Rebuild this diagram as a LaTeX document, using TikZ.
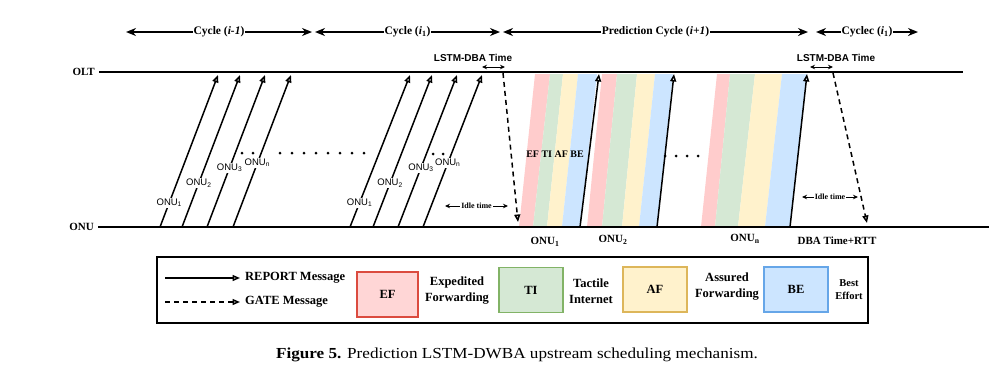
\documentclass[tikz,border=0pt]{standalone}
\usepackage{fontspec}
\setmainfont{Liberation Serif}
\setsansfont{Liberation Sans}
\newfontfamily\capfont[FakeStretch=1.12]{Liberation Serif}
\usetikzlibrary{arrows.meta}

\definecolor{efpink}{HTML}{FFCCCC}
\definecolor{tigreen}{HTML}{D5E8D4}
\definecolor{afyellow}{HTML}{FFF2CC}
\definecolor{beblue}{HTML}{CCE5FF}
\definecolor{efred}{HTML}{DB4B3F}
\definecolor{tiline}{HTML}{82B366}
\definecolor{afline}{HTML}{DDB65A}
\definecolor{beline}{HTML}{66A6E8}

\tikzset{
  levelline/.style={line width=2pt},
  report/.style={line width=1.5pt, -{Triangle[open,length=7.5pt,width=6pt]}},
  gate/.style={report, dash pattern=on 5pt off 4pt},
  cyc/.style={line width=1.7pt, {Stealth[length=10pt,width=8pt]}-{Stealth[length=10pt,width=8pt]}},
  spanarrow/.style={line width=0.9pt, {Stealth[length=5pt,width=4.5pt]}-{Stealth[length=5pt,width=4.5pt]}},
  onulab/.style={font=\sffamily\fontsize{9.5}{10}\selectfont, fill=white, inner sep=1pt},
  cyclab/.style={font=\bfseries\fontsize{11.5}{12}\selectfont, fill=white, inner sep=1pt},
  lstmlab/.style={font=\sffamily\bfseries\fontsize{10}{11}\selectfont, inner sep=0pt},
  idlelab/.style={font=\bfseries\fontsize{8}{9}\selectfont, fill=white, inner sep=1pt},
  sidelab/.style={font=\bfseries\fontsize{11}{12}\selectfont, inner sep=4pt},
  leglab/.style={font=\bfseries\fontsize{12.5}{16}\selectfont, align=center, inner sep=0pt},
  legbox/.style={line width=1.4pt, minimum width=64pt, minimum height=45pt, font=\bfseries\fontsize{12.5}{15}\selectfont}
}

\begin{document}
\begin{tikzpicture}[x=1pt, y=-1pt]
\useasboundingbox (0,0) rectangle (1003,373);

\foreach \ba/\ta/\tb/\bb/\c in {
  519/535/550/533/efpink, 533/550/563/547/tigreen, 547/563/578/562/afyellow, 562/578/597/580/beblue,
  587/602/617/602/efpink, 602/617/637/622/tigreen, 622/637/655/639/afyellow, 639/655/673/657/beblue,
  701/717/730/715/efpink, 715/730/755/738/tigreen, 738/755/782/765/afyellow, 765/782/807/790/beblue}
  \fill[\c] (\ba,227) -- (\ta,74) -- (\tb,74) -- (\bb,227) -- cycle;

\node[sidelab, anchor=east] (olt) at (99,72) {OLT};
\node[sidelab, anchor=east] (onu) at (98,227) {ONU};
\coordinate (oltend) at (963,72);
\coordinate (onuend) at (989,227);
\draw[levelline] (olt.east) -- (oltend);
\draw[levelline] (onu.east) -- (onuend);

\coordinate (c1a) at (126,32); \coordinate (c1b) at (312,32);
\coordinate (c2a) at (315,32); \coordinate (c2b) at (500,32);
\coordinate (c3a) at (503,32); \coordinate (c3b) at (808,32);
\coordinate (c4a) at (816,32); \coordinate (c4b) at (918,32);
\draw[cyc] (c1a) -- node[cyclab] {Cycle (\textit{i-1})} (c1b);
\draw[cyc] (c2a) -- node[cyclab] {Cycle (\textit{i}\textsubscript{1})} (c2b);
\draw[cyc] (c3a) -- node[cyclab] {Prediction Cycle (\textit{i+1})} (c3b);
\draw[cyc] (c4a) -- node[cyclab] {Cyclec (\textit{i}\textsubscript{1})} (c4b);

\node[lstmlab] (lstm1) at (473,58) {LSTM-DBA Time};
\node[lstmlab] (lstm2) at (836,58) {LSTM-DBA Time};
\coordinate (l1a) at (482,67); \coordinate (l1b) at (505,67);
\coordinate (l2a) at (810,67); \coordinate (l2b) at (833,67);
\draw[spanarrow] (l1a) -- (l1b);
\draw[spanarrow] (l2a) -- (l2b);

\foreach \b/\t/\n/\p/\s in {160/218/a1/0.16/1, 182/240/a2/0.29/2, 207/265/a3/0.39/3, 233/291/a4/0.42/n,
  350/410/b1/0.16/1, 373/432/b2/0.29/2, 398/457/b3/0.39/3, 423/482/b4/0.42/n} {
  \coordinate (\n s) at (\b,227);
  \coordinate (\n e) at (\t,75);
  \draw[report] (\n s) -- node[onulab, pos=\p] {ONU\textsubscript{\s}} (\n e);
}

\foreach \b/\t/\n in {580/599/p1, 657/674/p2, 790/807/p3} {
  \coordinate (\n s) at (\b,227);
  \coordinate (\n e) at (\t,74);
  \draw[report] (\n s) -- (\n e);
}

\coordinate (g1s) at (503,73); \coordinate (g1e) at (518,222);
\coordinate (g2s) at (833,73); \coordinate (g2e) at (867,223);
\draw[gate] (g1s) -- (g1e);
\draw[gate] (g2s) -- (g2e);

\coordinate (i1a) at (445,206); \coordinate (i1b) at (508,206);
\coordinate (i2a) at (802,197); \coordinate (i2b) at (858,197);
\draw[spanarrow] (i1a) -- node[idlelab] {Idle time} (i1b);
\draw[spanarrow] (i2a) -- node[idlelab] {Idle time} (i2b);

\foreach \x in {242,253} \fill (\x,153) circle (1.5pt);
\foreach \x in {280,292,...,364} \fill (\x,153) circle (1.5pt);
\foreach \x in {433,443} \fill (\x,154) circle (1.5pt);
\foreach \x in {665,676,...,708} \fill (\x,156) circle (1.5pt);

\node[font=\bfseries\fontsize{10}{11}\selectfont, inner sep=0pt] (classes) at (555,154) {EF TI AF BE};

\node[sidelab] (onu1) at (545,242) {ONU\textsubscript{1}};
\node[sidelab] (onu2) at (613,240) {ONU\textsubscript{2}};
\node[sidelab] (onun) at (745,239) {ONU\textsubscript{n}};
\node[sidelab] (dbartt) at (837,241) {DBA Time+RTT};

\draw[line width=1.5pt] (157,257) rectangle (868,323);
\coordinate (lr1) at (165,278); \coordinate (lr2) at (240,278);
\coordinate (lg1) at (165,302); \coordinate (lg2) at (240,302);
\draw[report] (lr1) -- (lr2);
\draw[gate] (lg1) -- (lg2);
\node[leglab, anchor=west] (reportlab) at (245,278) {REPORT Message};
\node[leglab, anchor=west] (gatelab) at (245,302) {GATE Message};

\node[legbox, draw=efred, fill=efpink!80!white, minimum width=61pt] (efbox) at (387.5,294.5) {EF};
\node[leglab] (eftext) at (457,291) {Expedited\\Forwarding};
\node[legbox, draw=tiline, fill=tigreen] (tibox) at (531,290) {TI};
\node[leglab] (titext) at (591,291) {Tactile\\Internet};
\node[legbox, draw=afline, fill=afyellow] (afbox) at (655,289.5) {AF};
\node[leglab] (aftext) at (727,287) {Assured\\Forwarding};
\node[legbox, draw=beline, fill=beblue] (bebox) at (796,289.5) {BE};
\node[leglab, font=\bfseries\fontsize{10.5}{13}\selectfont] (betext) at (849,289.5) {Best\\Effort};

\node[font=\capfont\fontsize{15.3}{17}\selectfont] (caption) at (517,355) {\textbf{Figure 5.} Prediction LSTM-DWBA upstream scheduling mechanism.};
\end{tikzpicture}
\end{document}
